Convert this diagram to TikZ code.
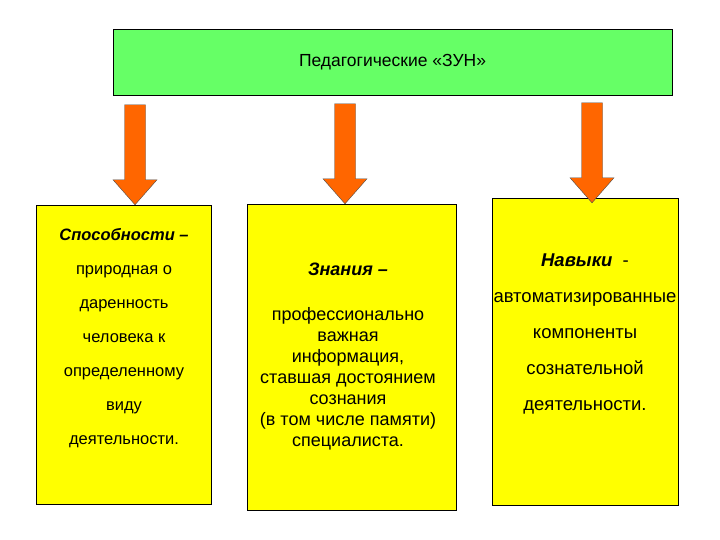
\documentclass[tikz,border=0pt]{standalone}
\usepackage{fontspec}
\setmainfont{Liberation Sans}
\usetikzlibrary{positioning, calc}
\definecolor{zungreen}{RGB}{102,255,102}
\definecolor{zunyellow}{RGB}{255,255,0}
\definecolor{zunorange}{RGB}{255,102,0}
\tikzset{
top box/.style = { rectangle, draw = black, fill = zungreen, minimum width = 559pt, minimum height = 66pt, font = \fontsize{17.5}{20}\selectfont },
kind box/.style = { rectangle, draw = black, fill = zunyellow, inner sep = 0pt },
kind text/.style 2 args = { align = center, anchor = north, inner sep = 0pt, font = \fontsize{#1}{#2}\selectfont },
}
\tikzset{
pics/down arrow/.style = {
        code = {
        \path[draw = black!70, fill = zunorange] (0, 0) -- (-22, -25) -- (-10.5, -25) -- (-10.5, -#1) -- (10.5, -#1) -- (10.5, -25) -- (22, -25) -- cycle;
        }
    }
}
\newcommand{\kindname}[1]{\textbf{\textit{#1}}}

\begin{document}
\begin{tikzpicture}[x = 1pt, y = -1pt]
    \useasboundingbox (0, 0) rectangle (720, 540);
    \node[top box] (zun) at (392.5, 62.5) {Педагогические «ЗУН»};
    % three kinds
    \node[kind box, minimum width = 175pt, minimum height = 299pt] (abil) at (123.5, 354.5) {};
    \node[kind box, minimum width = 209pt, minimum height = 306pt] (know) at (351.5, 357) {};
    \node[kind box, minimum width = 186pt, minimum height = 307pt] (skill) at (585, 351.5) {};
    \node[kind text = {16.5}{34pt}] (abiltext) at (124, 228) {\kindname{Способности –}\\ природная о\\ даренность\\ человека к\\ определенному\\ виду\\ деятельности.};
    \node[kind text = {18}{21pt}] (knowtext) at (348, 263) {\kindname{Знания –}\\[24pt] профессионально\\ важная\\ информация,\\ ставшая достоянием\\ сознания\\ (в том числе памяти)\\ специалиста.};
    \node[kind text = {18.5}{36pt}] (skilltext) at (585, 254) {\kindname{Навыки} \ -\\ автоматизированные\\ компоненты\\ сознательной\\ деятельности.};
    % arrows
    \path (abil.north -| 135, 0) pic{down arrow = 100};
    \path (know.north -| 345, 0) pic{down arrow = 100};
    \path ([yshift = -5pt]skill.north -| 592, 0) pic{down arrow = 100};
\end{tikzpicture}
\end{document}
